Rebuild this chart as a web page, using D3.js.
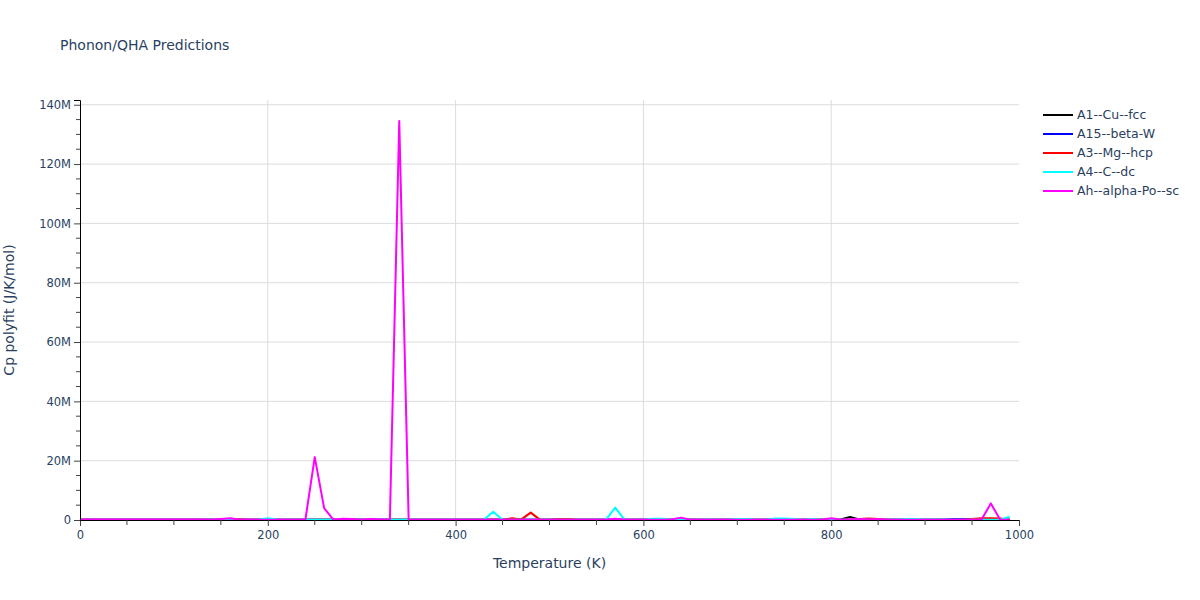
<!DOCTYPE html>
<html>
<head>
<meta charset="utf-8">
<script src="https://cdn.jsdelivr.net/npm/d3@7"></script>
<style>
  body { margin: 0; background: #fff; }
  svg text { font-family: "DejaVu Sans", verdana, arial, sans-serif; fill: #2a3f5f; }
</style>
</head>
<body>
<div id="chart"></div>
<script>
"use strict"

// temperatures (K)
const temperatures = [
  0, 10, 20, 30, 40, 50, 60, 70, 80, 90,
  100, 110, 120, 130, 140, 150, 160, 170, 180, 190,
  200, 210, 220, 230, 240, 250, 260, 270, 280, 290,
  300, 310, 320, 330, 340, 350, 360, 370, 380, 390,
  400, 410, 420, 430, 440, 450, 460, 470, 480, 490,
  500, 510, 520, 530, 540, 550, 560, 570, 580, 590,
  600, 610, 620, 630, 640, 650, 660, 670, 680, 690,
  700, 710, 720, 730, 740, 750, 760, 770, 780, 790,
  800, 810, 820, 830, 840, 850, 860, 870, 880, 890,
  900, 910, 920, 930, 940, 950, 960, 970, 980, 990
];

// Cp polyfit values, in millions of J/K/mol
const cpA1 = [
  0.05, 0.05, 0.05, 0.05, 0.05, 0.05, 0.05, 0.05, 0.05, 0.05,
  0.05, 0.05, 0.05, 0.05, 0.05, 0.05, 0.05, 0.05, 0.05, 0.05,
  0.05, 0.05, 0.05, 0.05, 0.05, 0.05, 0.05, 0.05, 0.05, 0.05,
  0.05, 0.05, 0.05, 0.05, 0.05, 0.05, 0.05, 0.05, 0.05, 0.05,
  0.05, 0.05, 0.05, 0.05, 0.05, 0.05, 0.05, 0.05, 0.05, 0.05,
  0.05, 0.2, 0.05, 0.05, 0.05, 0.05, 0.05, 0.05, 0.05, 0.05,
  0.05, 0.05, 0.05, 0.05, 0.05, 0.05, 0.05, 0.05, 0.05, 0.05,
  0.05, 0.05, 0.05, 0.05, 0.05, 0.05, 0.05, 0.05, 0.05, 0.05,
  0.05, 0.2, 1.0, 0.2, 0.05, 0.05, 0.05, 0.05, 0.05, 0.05,
  0.05, 0.05, 0.05, 0.05, 0.2, 0.2, 0.05, 0.05, 0.05, 0.05
];
const cpA15 = [
  0.05, 0.05, 0.05, 0.05, 0.05, 0.05, 0.05, 0.05, 0.05, 0.05,
  0.05, 0.05, 0.05, 0.05, 0.05, 0.05, 0.05, 0.05, 0.05, 0.05,
  0.05, 0.05, 0.05, 0.05, 0.05, 0.05, 0.05, 0.05, 0.05, 0.05,
  0.05, 0.05, 0.05, 0.05, 0.05, 0.05, 0.05, 0.05, 0.05, 0.05,
  0.05, 0.05, 0.05, 0.05, 0.05, 0.05, 0.05, 0.05, 0.05, 0.05,
  0.05, 0.05, 0.05, 0.05, 0.05, 0.05, 0.05, 0.05, 0.05, 0.05,
  0.05, 0.05, 0.05, 0.05, 0.05, 0.05, 0.05, 0.05, 0.05, 0.05,
  0.05, 0.05, 0.05, 0.05, 0.05, 0.05, 0.05, 0.05, 0.05, 0.05,
  0.05, 0.05, 0.05, 0.05, 0.05, 0.05, 0.05, 0.05, 0.05, 0.05,
  0.05, 0.05, 0.2, 0.3, 0.3, 0.3, 0.2, 0.05, 0.05, 0.05
];
const cpA3 = [
  0.05, 0.05, 0.05, 0.05, 0.05, 0.05, 0.05, 0.05, 0.05, 0.05,
  0.05, 0.05, 0.05, 0.05, 0.05, 0.05, 0.05, 0.3, 0.05, 0.05,
  0.05, 0.05, 0.05, 0.05, 0.05, 0.05, 0.05, 0.05, 0.05, 0.05,
  0.05, 0.05, 0.05, 0.05, 0.05, 0.05, 0.05, 0.05, 0.05, 0.05,
  0.05, 0.05, 0.05, 0.05, 0.05, 0.05, 0.6, 0.2, 2.5, 0.05,
  0.05, 0.3, 0.3, 0.05, 0.05, 0.05, 0.05, 0.05, 0.05, 0.05,
  0.05, 0.05, 0.05, 0.05, 0.05, 0.05, 0.05, 0.05, 0.05, 0.05,
  0.05, 0.05, 0.05, 0.05, 0.05, 0.05, 0.05, 0.05, 0.05, 0.05,
  0.05, 0.05, 0.2, 0.3, 0.5, 0.3, 0.1, 0.05, 0.05, 0.05,
  0.05, 0.05, 0.05, 0.05, 0.05, 0.3, 0.6, 0.6, 0.5, 0.05
];
const cpA4 = [
  0.05, 0.05, 0.05, 0.05, 0.05, 0.05, 0.05, 0.05, 0.05, 0.05,
  0.05, 0.05, 0.05, 0.05, 0.05, 0.05, 0.05, 0.05, 0.05, 0.05,
  0.6, 0.2, 0.05, 0.05, 0.05, 0.05, 0.05, 0.05, 0.05, 0.05,
  0.05, 0.05, 0.05, 0.05, 0.05, 0.05, 0.05, 0.05, 0.05, 0.05,
  0.05, 0.05, 0.05, 0.05, 2.8, 0.05, 0.05, 0.05, 0.05, 0.05,
  0.05, 0.05, 0.05, 0.05, 0.05, 0.05, 0.05, 4.2, 0.05, 0.05,
  0.05, 0.4, 0.4, 0.1, 0.05, 0.05, 0.05, 0.2, 0.1, 0.05,
  0.3, 0.3, 0.1, 0.05, 0.5, 0.5, 0.3, 0.05, 0.3, 0.1,
  0.05, 0.05, 0.05, 0.05, 0.05, 0.05, 0.1, 0.2, 0.3, 0.3,
  0.2, 0.2, 0.2, 0.1, 0.05, 0.05, 0.05, 0.05, 0.1, 1.1
];
const cpAh = [
  0.15, 0.15, 0.15, 0.15, 0.15, 0.15, 0.15, 0.15, 0.15, 0.15,
  0.15, 0.15, 0.15, 0.15, 0.05, 0.3, 0.6, 0.05, 0.2, 0.1,
  0.05, 0.05, 0.05, 0.05, 0.05, 21.2, 4.0, 0.05, 0.4, 0.3,
  0.05, 0.3, 0.2, 0.1, 134.5, 0.05, 0.05, 0.05, 0.05, 0.05,
  0.05, 0.05, 0.05, 0.05, 0.05, 0.05, 0.05, 0.05, 0.05, 0.05,
  0.05, 0.05, 0.05, 0.05, 0.05, 0.05, 0.05, 0.4, 0.05, 0.05,
  0.05, 0.05, 0.05, 0.2, 0.8, 0.1, 0.05, 0.05, 0.05, 0.05,
  0.05, 0.05, 0.05, 0.05, 0.05, 0.05, 0.05, 0.05, 0.05, 0.05,
  0.6, 0.1, 0.2, 0.3, 0.2, 0.3, 0.1, 0.05, 0.05, 0.05,
  0.05, 0.05, 0.05, 0.05, 0.05, 0.05, 0.05, 5.6, 0.05, 0.05
];

const seriesNames = ["A1--Cu--fcc", "A15--beta-W", "A3--Mg--hcp", "A4--C--dc", "Ah--alpha-Po--sc"];
const seriesValues = [cpA1, cpA15, cpA3, cpA4, cpAh];
const seriesColors = ["#000000", "#0000ff", "#ff0000", "#00ffff", "#ff00ff"];

const xTicks = [0, 200, 400, 600, 800, 1000];
const yTicks = [0, 20, 40, 60, 80, 100, 120, 140];

const width = 1200, height = 600;
const margin = { left: 80, right: 181, top: 100, bottom: 80 };

const svg = d3.select("#chart").append("svg")
    .attr("width", width)
    .attr("height", height);

const x = d3.scaleLinear()
    .domain([0, 1000])
    .range([margin.left, width - margin.right]);

const y = d3.scaleLinear()
    .domain([0, 141.6])
    .range([height - margin.bottom, margin.top]);

drawGrid();
drawLines();
drawAxes();
drawTitles();
drawLegend();

function drawGrid() {
    svg.append("g").selectAll("line")
        .data(xTicks.filter(d => d > 0 && d < 1000))
        .join("line")
        .attr("x1", d => x(d)).attr("x2", d => x(d))
        .attr("y1", y.range()[0]).attr("y2", y.range()[1])
        .style("stroke", "#dcdcdc").style("stroke-width", 1);

    svg.append("g").selectAll("line")
        .data(yTicks.filter(d => d > 0))
        .join("line")
        .attr("x1", x.range()[0]).attr("x2", x.range()[1])
        .attr("y1", d => y(d)).attr("y2", d => y(d))
        .style("stroke", "#dcdcdc").style("stroke-width", 1);
}

function drawLines() {
    const line = d3.line()
        .x((d, i) => x(temperatures[i]))
        .y(d => y(d));

    seriesValues.forEach((vals, k) => {
        svg.append("path")
            .datum(vals)
            .attr("d", line)
            .style("fill", "none")
            .style("stroke", seriesColors[k])
            .style("stroke-width", 2)
            .style("stroke-linejoin", "round");
    });
}

function drawAxes() {
    const minorX = d3.range(0, 1001, 50).filter(d => d % 200 !== 0);
    const minorY = d3.range(0, 141, 5).filter(d => d % 20 !== 0);

    const xAxis = svg.append("g")
        .attr("transform", `translate(0,${y(0)})`)
        .call(d3.axisBottom(x).tickValues(xTicks).tickSize(6).tickPadding(5).tickFormat(d3.format("d")));
    xAxis.append("g").selectAll("line")
        .data(minorX).join("line")
        .attr("x1", d => x(d)).attr("x2", d => x(d))
        .attr("y1", 0).attr("y2", 5)
        .style("stroke", "#444");

    const yAxis = svg.append("g")
        .attr("transform", `translate(${x(0)},0)`)
        .call(d3.axisLeft(y).tickValues(yTicks).tickSize(6).tickPadding(3)
            .tickFormat(d => d === 0 ? "0" : d + "M"));
    yAxis.append("g").selectAll("line")
        .data(minorY).join("line")
        .attr("x1", 0).attr("x2", -4)
        .attr("y1", d => y(d)).attr("y2", d => y(d))
        .style("stroke", "#444");

    [xAxis, yAxis].forEach(g => {
        g.select(".domain").style("stroke", "#000").style("stroke-width", 1);
        g.selectAll(".tick line").style("stroke", "#444");
        g.selectAll(".tick text")
            .style("font-family", "'DejaVu Sans', verdana, arial, sans-serif")
            .style("font-size", "11.5px").style("fill", "#2a3f5f");
    });
}

function drawTitles() {
    svg.append("text")
        .attr("x", 60)
        .attr("y", 50)
        .style("font-size", "14px")
        .text("Phonon/QHA Predictions");

    svg.append("text")
        .attr("x", (x.range()[0] + x.range()[1]) / 2)
        .attr("y", 568)
        .style("font-size", "14px")
        .style("text-anchor", "middle")
        .text("Temperature (K)");

    svg.append("text")
        .attr("transform", `translate(14,${(y.range()[0] + y.range()[1]) / 2}) rotate(-90)`)
        .style("font-size", "14px")
        .style("text-anchor", "middle")
        .text("Cp polyfit (J/K/mol)");
}

function drawLegend() {
    const legend = svg.append("g")
        .attr("transform", "translate(1043,115)");

    seriesNames.forEach((name, k) => {
        legend.append("line")
            .attr("x1", 0).attr("x2", 30)
            .attr("y1", k * 19).attr("y2", k * 19)
            .style("stroke", seriesColors[k])
            .style("stroke-width", 2);
        legend.append("text")
            .attr("x", 34)
            .attr("y", k * 19 + 4)
            .style("font-size", "12.5px")
            .text(name);
    });
}
</script>
</body>
</html>
